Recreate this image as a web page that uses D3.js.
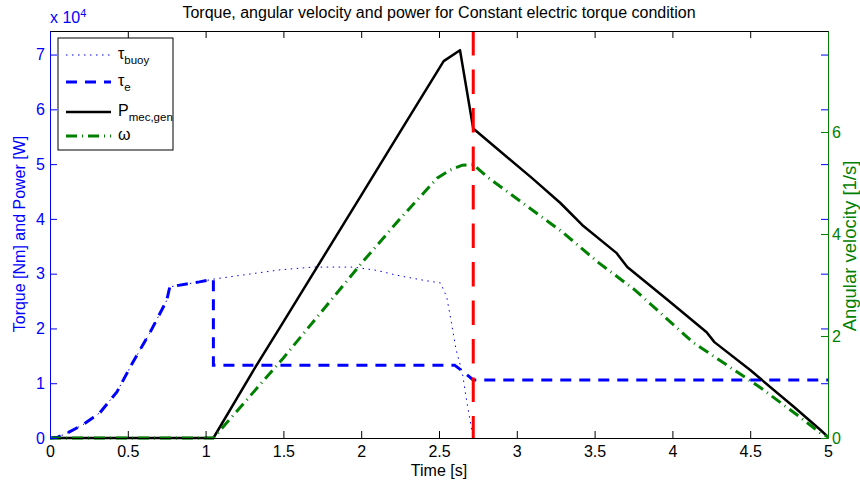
<!DOCTYPE html>
<html><head><meta charset="utf-8">
<script src="https://cdn.jsdelivr.net/npm/d3@7"></script>
<style>
body{margin:0;background:#fff}
text{font-family:"Liberation Sans",Arial,Helvetica,sans-serif}
</style>
</head><body>
<svg id="chart" width="860" height="485"></svg>
<script>
// ---- data (time in s, torque in Nm, power in W, omega in 1/s) ----
const tauBuoy = [[0,0],[0.05,150],[0.11,900],[0.21,2400],[0.32,4600],[0.43,8400],[0.53,13700],[0.64,19100],[0.75,25100],[0.77,27600],[0.96,28500],[1.05,29000],[1.25,29800],[1.48,30700],[1.69,31200],[1.95,31200],[2.1,30600],[2.23,29700],[2.4,28800],[2.51,28300],[2.55,25700],[2.58,21000],[2.61,16100],[2.65,11900],[2.68,6400],[2.71,1500],[2.72,0]];
const tauE = [[0,0],[0.05,150],[0.11,900],[0.21,2400],[0.32,4600],[0.43,8400],[0.53,13700],[0.64,19100],[0.75,25100],[0.77,27600],[0.96,28500],[1.05,29000],[1.05,13300],[2.6,13300],[2.66,12000],[2.72,10600],[5,10600]];
const power = [[0,0],[1.05,0],[1.3,12000],[1.5,21200],[2.0,44300],[2.25,55900],[2.53,68800],[2.635,70800],[2.72,56500],[2.87,52900],[3.1,47400],[3.28,42900],[3.42,38900],[3.64,33800],[3.71,31200],[3.97,25200],[4.22,19300],[4.27,17500],[4.5,12400],[4.78,5700],[4.95,1500],[5,200]];
const omega = [[0,0],[1.05,0],[1.5,1.57],[2.0,3.42],[2.25,4.3],[2.49,5.1],[2.57,5.25],[2.65,5.35],[2.72,5.36],[2.81,5.12],[3.3,4.02],[3.52,3.45],[3.76,2.9],[4.13,1.88],[4.56,1.0],[4.82,0.41],[4.95,0.1],[5,0.02]];
const tEvent = 2.72;

const xTicks = [0,0.5,1,1.5,2,2.5,3,3.5,4,4.5,5];
const xTickLabels = ["0","0.5","1","1.5","2","2.5","3","3.5","4","4.5","5"];
const leftTicks = [0,10000,20000,30000,40000,50000,60000,70000];
const leftTickLabels = ["0","1","2","3","4","5","6","7"];
const rightTicks = [0,2,4,6];
const rightTickLabels = ["0","2","4","6"];
const legendMain = ["τ","τ","P","ω"];
const legendSub = ["buoy","e","mec,gen",""];

const titleText = "Torque, angular velocity and power for Constant electric torque condition";
const xLabel = "Time [s]";
const yLeftLabel = "Torque [Nm] and Power [W]";
const yRightLabel = "Angular velocity [1/s]";

// ---- layout ----
const X0 = 50, X1 = 828, YT = 31, YB = 438;
const BLUE = "#0000ff", GREEN = "#008000", RED = "#ff0000";
const FS = 16;

const svg = d3.select("#chart");
const x = d3.scaleLinear().domain([0,5]).range([X0,X1]);
const yL = d3.scaleLinear().domain([0,74300]).range([YB,YT]);
const yR = d3.scaleLinear().domain([0,7.98]).range([YB,YT]);

svg.append("rect").attr("x",X0).attr("y",YT).attr("width",X1-X0).attr("height",YB-YT).attr("fill","#fff");

svg.append("clipPath").attr("id","clip").append("rect")
  .attr("x",X0).attr("y",YT-2).attr("width",X1-X0).attr("height",YB-YT+4);

const plot = svg.append("g").attr("clip-path","url(#clip)");
const lineL = d3.line().x(d=>x(d[0])).y(d=>yL(d[1]));
const lineR = d3.line().x(d=>x(d[0])).y(d=>yR(d[1]));

plot.append("path").datum(tauBuoy).attr("d",lineL).attr("fill","none")
  .attr("stroke",BLUE).attr("stroke-width",1).attr("stroke-dasharray","1.5,4.5");
plot.append("path").datum(tauE).attr("d",lineL).attr("fill","none")
  .attr("stroke",BLUE).attr("stroke-width",3).attr("stroke-dasharray","11,8");
plot.append("path").datum(power).attr("d",lineL).attr("fill","none")
  .attr("stroke","#000").attr("stroke-width",2.5).attr("stroke-linejoin","round");
plot.append("path").datum(omega).attr("d",lineR).attr("fill","none")
  .attr("stroke",GREEN).attr("stroke-width",3).attr("stroke-dasharray","11,5,1,5");
plot.append("line").attr("x1",x(tEvent)).attr("x2",x(tEvent)).attr("y1",YT).attr("y2",YB)
  .attr("stroke",RED).attr("stroke-width",3).attr("stroke-dasharray","24.5,14");

// ---- axes ----
function style(g, color){
  g.attr("font-size",FS).attr("font-family",null);
  g.selectAll("text").attr("fill",color);
  g.selectAll("line").attr("stroke",color);
  g.selectAll("path.domain").attr("stroke",color);
}
svg.append("g").attr("transform",`translate(0,${YT})`)
  .call(d3.axisTop(x).tickValues(xTicks).tickFormat(()=>"").tickSizeInner(-7).tickSizeOuter(0))
  .call(g=>style(g,"#000"));
svg.append("g").attr("transform",`translate(${X1},0)`)
  .call(d3.axisRight(yL).tickValues(leftTicks).tickFormat(()=>"").tickSizeInner(-7).tickSizeOuter(0))
  .call(g=>{style(g,BLUE); g.select(".domain").remove();});
svg.append("g").attr("transform",`translate(0,${YB})`)
  .call(d3.axisBottom(x).tickValues(xTicks).tickFormat((d,i)=>xTickLabels[i]).tickSizeInner(-7).tickSizeOuter(0).tickPadding(8))
  .call(g=>style(g,"#000"));
svg.append("g").attr("transform",`translate(${X0},0)`)
  .call(d3.axisLeft(yL).tickValues(leftTicks).tickFormat((d,i)=>leftTickLabels[i]).tickSizeInner(-7).tickSizeOuter(0).tickPadding(5))
  .call(g=>style(g,BLUE));
svg.append("g").attr("transform",`translate(${X1},0)`)
  .call(d3.axisRight(yR).tickValues(rightTicks).tickFormat((d,i)=>rightTickLabels[i]).tickSizeInner(-7).tickSizeOuter(0).tickPadding(4))
  .call(g=>style(g,GREEN));

// ---- texts ----
svg.append("text").attr("x",(X0+X1)/2).attr("y",18).attr("text-anchor","middle")
  .attr("font-size",FS).attr("fill","#000").text(titleText);
svg.append("text").attr("x",(X0+X1)/2).attr("y",476).attr("text-anchor","middle")
  .attr("font-size",FS).attr("fill","#000").text(xLabel);
svg.append("text").attr("transform",`translate(25,234) rotate(-90)`).attr("text-anchor","middle")
  .attr("font-size",FS).attr("fill",BLUE).text(yLeftLabel);
svg.append("text").attr("transform",`translate(855.5,246) rotate(-90)`).attr("text-anchor","middle")
  .attr("font-size",18.5).attr("fill",GREEN).text(yRightLabel);
const mult = svg.append("text").attr("x",X0).attr("y",23).attr("font-size",FS).attr("fill",BLUE);
mult.append("tspan").text("x 10");
mult.append("tspan").attr("dy",-6).attr("font-size",11).text("4");

// ---- legend ----
const lg = svg.append("g");
lg.append("rect").attr("x",58).attr("y",38).attr("width",115).attr("height",112)
  .attr("fill","#fff").attr("stroke","#000").attr("stroke-width",1);
const rowsY = [55,82,112,136];
const styles = [
  {c:BLUE,w:1,d:"1.5,4.5"},
  {c:BLUE,w:3,d:"11,8"},
  {c:"#000",w:2.5,d:null},
  {c:GREEN,w:3,d:"11,5,1,5"}
];
rowsY.forEach((ry,i)=>{
  lg.append("line").attr("x1",66).attr("x2",111).attr("y1",ry).attr("y2",ry)
    .attr("stroke",styles[i].c).attr("stroke-width",styles[i].w).attr("stroke-dasharray",styles[i].d);
  const t = lg.append("text").attr("x",118).attr("y",ry+4).attr("font-size",16).attr("fill","#000");
  t.append("tspan").text(legendMain[i]);
  if(legendSub[i]) t.append("tspan").attr("dy",5).attr("font-size",11.5).text(legendSub[i]);
});
</script>
</body></html>
